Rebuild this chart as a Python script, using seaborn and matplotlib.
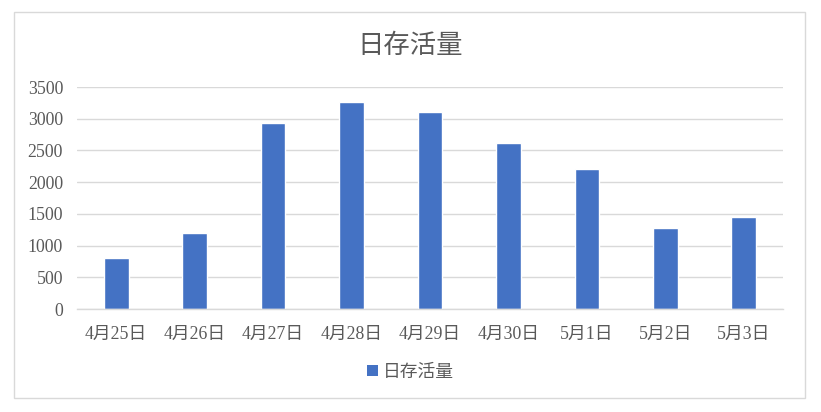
import pandas as pd
import matplotlib
matplotlib.use("Agg")
import matplotlib.pyplot as plt
import seaborn as sns
from matplotlib.patches import Rectangle, Patch

# data
dates = ["4月25日", "4月26日", "4月27日", "4月28日", "4月29日",
         "4月30日", "5月1日", "5月2日", "5月3日"]
retention = [800, 1200, 2930, 3260, 3100, 2620, 2200, 1280, 1450]
series_name = "日存活量"

df = pd.DataFrame({"date": dates, "value": retention})

sns.set_theme(style="white")
plt.rcParams["font.family"] = ["Liberation Serif", "Noto Sans CJK SC", "DejaVu Sans"]

text_color = "#595959"
grid_color = "#D9D9D9"
bar_color = "#4472C4"

fig = plt.figure(figsize=(8.21, 4.12), dpi=100)
ax = fig.add_axes([77 / 821, 1 - 309 / 412, 706 / 821, 222 / 412])

sns.barplot(data=df, x="date", y="value", color=bar_color, width=0.315,
            saturation=1, ax=ax)

ax.set_ylim(0, 3500)
ax.set_yticks(range(0, 3501, 500))
ax.set_xlim(-0.5, len(dates) - 0.5)
ax.yaxis.grid(True, color=grid_color, linewidth=1)
ax.set_axisbelow(True)
for side in ["top", "right", "left"]:
    ax.spines[side].set_visible(False)
ax.spines["bottom"].set_color(grid_color)
ax.spines["bottom"].set_linewidth(1)
ax.tick_params(axis="both", length=0, labelsize=12.8, labelcolor=text_color)
ax.tick_params(axis="y", pad=10)
ax.tick_params(axis="x", pad=12)
ax.set_xlabel("")
ax.set_ylabel("")

fig.text(0.5, 1 - 46 / 412, series_name, ha="center", va="center",
         fontsize=19, color=text_color)

handle = Patch(facecolor=bar_color, edgecolor="none")
fig.legend([handle], [series_name], loc="center", bbox_to_anchor=(0.5, 1 - 372 / 412),
           frameon=False, fontsize=12.8, labelcolor=text_color,
           handlelength=0.6, handleheight=0.6, handletextpad=0.3)

# outer chart border
fig.patches.append(Rectangle((14 / 821, 1 - 398 / 412), 791 / 821, 386 / 412,
                             transform=fig.transFigure, fill=False,
                             edgecolor=grid_color, linewidth=1))

fig.savefig("out.png", dpi=100)
